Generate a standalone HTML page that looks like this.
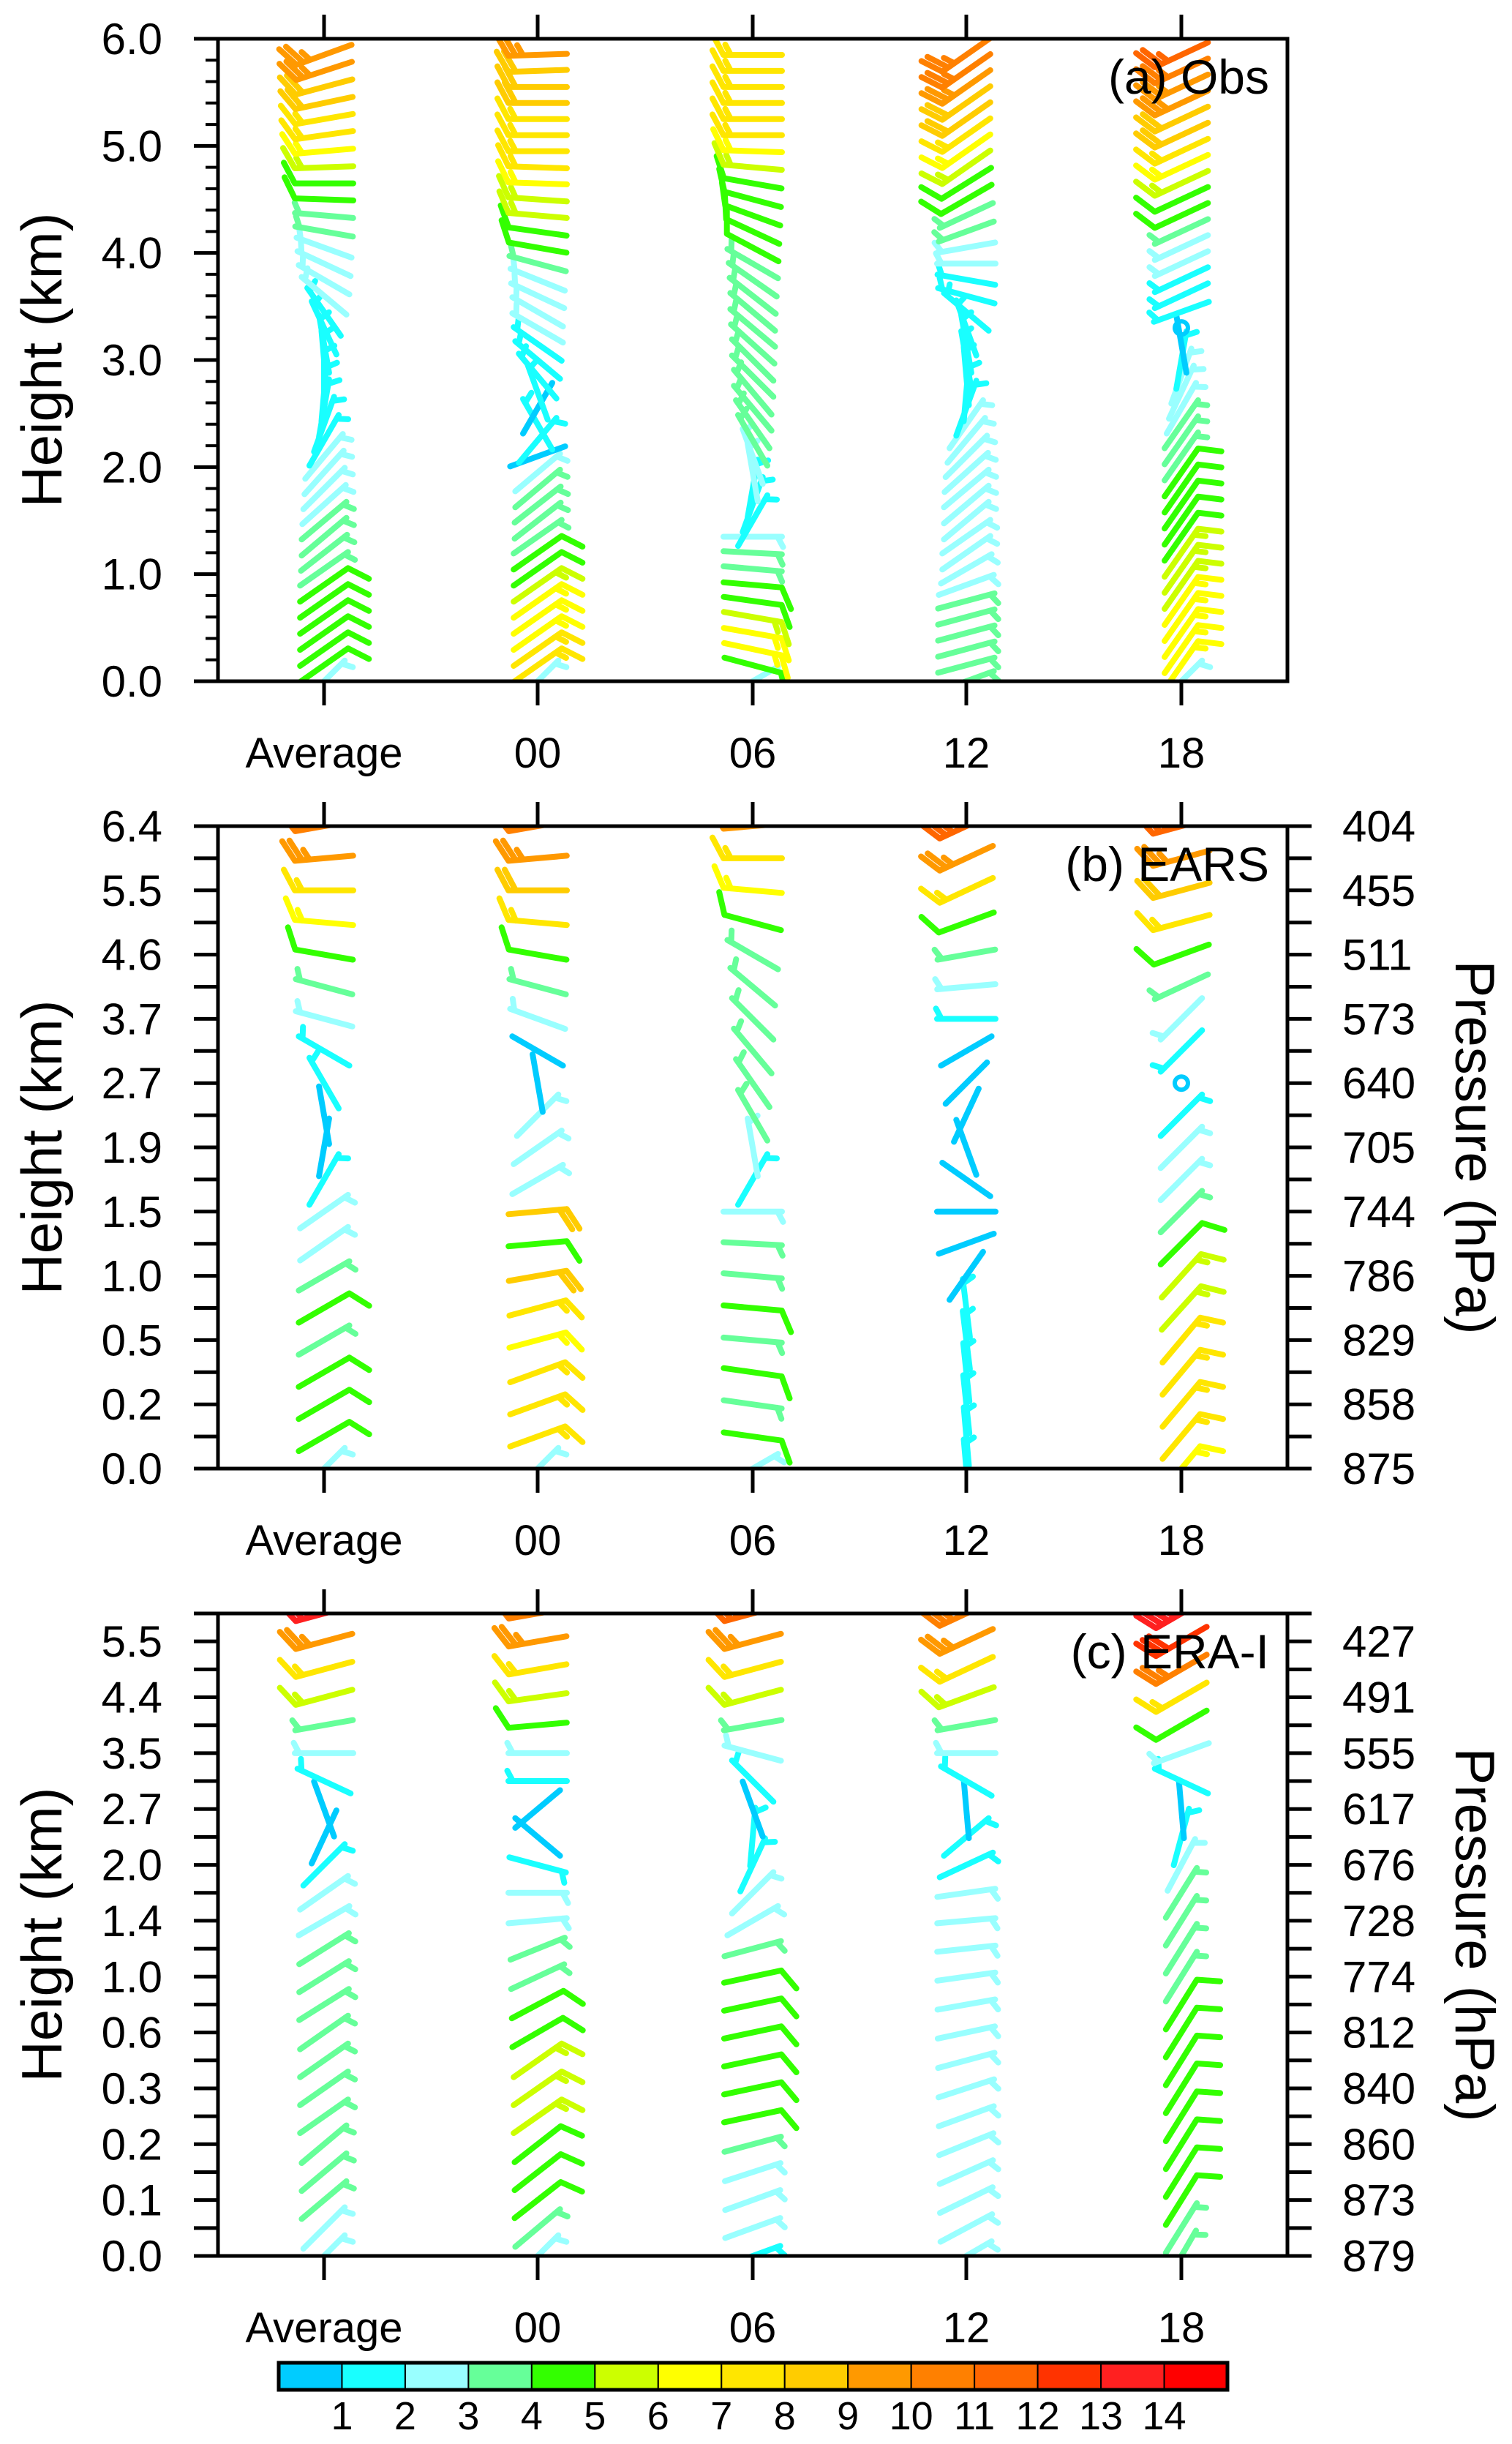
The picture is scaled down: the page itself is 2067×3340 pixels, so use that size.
<!DOCTYPE html>
<html><head><meta charset="utf-8"><style>
html,body{margin:0;padding:0;background:#fff;}
svg{display:block;font-family:"Liberation Sans",sans-serif;}
</style></head><body>
<svg id="fig" width="2067" height="3340" viewBox="0 0 2067 3340" xmlns="http://www.w3.org/2000/svg"></svg>
<script>
// ---------- data: categories ----------
const columns = ["Average","00","06","12","18"];
const colorLabels = ["1","2","3","4","5","6","7","8","9","10","11","12","13","14"];
const palette = ["#00CCFF","#19FFFF","#99FFFF","#66FF99","#33FF00","#CCFF00","#FFFF00","#FFE600","#FFCC00","#FF9900","#FF8000","#FF6600","#FF3300","#FF2020","#FF0000"];
const aTicks = ["0.0","1.0","2.0","3.0","4.0","5.0","6.0"];
const bLeftTicks = ["0.0","0.2","0.5","1.0","1.5","1.9","2.7","3.7","4.6","5.5","6.4"];
const bRightTicks = ["875","858","829","786","744","705","640","573","511","455","404"];
const cLeftTicks = ["0.0","0.1","0.2","0.3","0.6","1.0","1.4","2.0","2.7","3.5","4.4","5.5"];
const cRightTicks = ["879","873","860","840","812","774","728","676","617","555","491","427"];

// ---------- panel (a) Obs: speed (m/s) and barb direction (deg), bottom->top ----------
const aAvgSpd=[2.5,4.5,4.6,4.5,4.4,4.6,4.3,3.8,3.7,3.6,3.5,2.8,2.8,2.7,2.5,1.8,1.5,1.4,1.3,1.2,1.3,1.4,1.5,1.7,2.4,2.6,2.8,2.9,3.5,3.8,4.5,4.7,5.5,6.5,7.2,7.6,8.2,8.6,9.2,9.8];
const aAvgDir=[45,35,35,35,35,35,35,35,38,40,40,42,45,48,50,60,70,80,85,90,95,100,115,125,140,150,155,160,170,175,178,180,182,185,188,190,192,195,198,200];
const a00Spd=[2.5,7.5,7.2,6.8,6.5,6,5.5,4.5,4.2,3.8,3.5,3.2,3,2.8,0.8,1.2,1,0.8,1.2,1.5,1.8,1.8,2.2,2.5,2.6,2.8,3.5,4.3,4.5,5.5,5.8,6.5,7,7.3,7.5,7.8,8,8.2,8.5,9];
const a00Dir=[45,35,35,35,35,35,35,35,35,35,38,38,40,40,20,50,120,60,110,130,140,145,150,150,155,158,165,170,172,175,176,178,178,180,180,180,180,180,182,182];
const a06Spd=[2.5,4.5,6.5,6.8,5.5,4.5,4.5,3.6,3,2.8,1.5,1.5,1.6,2,2.6,3.2,3.4,3.5,3.5,3.6,3.6,3.5,3.5,3.4,3.6,3.7,3.8,4.2,4.5,4.6,4.8,4.8,5.2,6.5,7,7,7.2,7.5,7.5,7.8];
const a06Dir=[30,-15,-12,-10,-10,-8,-5,-5,-3,0,60,70,80,100,110,120,125,130,130,135,135,138,140,140,142,145,150,152,155,160,165,170,175,178,180,180,180,180,180,180];
const a12Spd=[3.5,3.6,3.8,3.7,3.6,3.5,2.8,2.7,2.6,2.6,2.6,2.5,2.5,2.5,2.5,2.4,2.5,1.8,1.7,1.6,1.5,1.5,1.6,1.8,1.8,1.9,2.5,2.8,3.5,3.8,4.6,4.8,5.5,6.8,7.5,8.2,8.8,9.5,10,10.5];
const a12Dir=[20,15,15,15,15,15,20,30,35,35,40,40,40,42,45,50,55,70,85,95,100,100,110,140,165,170,180,190,200,205,210,212,215,215,215,215,215,215,215,215];
const a18Spd=[2.5,6.5,6.2,6,6,6,5.8,5.5,5,4.8,4.5,4.5,4.5,4.2,3.6,3.6,3.8,2.8,2.5,2.2,1.5,0.6,0.3,1.0,1.2,1.5,2.2,2.8,3.6,4.2,4.6,5.5,6.2,7.5,8.3,8.6,9.2,9.8,10.2,11];
const a18Dir=[45,55,55,55,55,55,55,55,55,55,55,55,55,55,55,55,55,60,65,70,80,100,0,200,205,205,205,205,205,205,205,205,205,205,205,205,205,205,205,205];

// ---------- panel (b) EARS ----------
const bAvgSpd=[2.5,4.5,4.5,4.5,3.5,4.5,3.5,2.5,2.5,1.5,0.8,0.8,1.0,1.5,2.5,3.5,4.5,6.5,7,9.5,10];
const bAvgDir=[45,30,30,30,30,30,30,35,35,60,80,100,120,150,165,165,170,175,180,185,190];
const b00Spd=[2.5,7,7.5,7,6.8,7,8,4.5,8.2,2.8,2.6,2.5,0.8,0.9,2.5,3.5,4.5,7,8.5,9.5,10];
const b00Dir=[45,20,20,20,15,15,10,5,5,30,35,45,100,150,160,165,170,175,180,185,190];
const b06Spd=[2.5,4.5,3.8,4.5,3.8,4.5,3.6,3.2,2.6,1.5,2.5,3.5,3.5,3.5,3.5,3.6,3.8,4.5,6,7,9.5];
const b06Dir=[30,-8,-8,-8,-5,-5,-5,-3,0,60,100,120,125,130,135,140,150,165,175,180,185];
const b12Spd=[1.5,1.5,1.5,1.5,1.5,1.5,0.8,0.8,0.8,0.8,0.8,0.8,0.8,0.8,1.5,2.5,3.5,4.5,7,9.5,11];
const b12Dir=[95,95,96,96,97,97,55,20,0,145,110,65,45,30,180,185,190,200,205,205,205];
const b18Spd=[6.5,7,7,7,7,5.5,5.5,4.5,3.5,2.5,2.5,1.5,0.2,1.5,2.5,3.5,4.5,7,8.5,9.5,11];
const b18Dir=[50,50,50,50,50,48,48,45,45,45,45,45,0,225,225,205,200,195,195,195,195];

// ---------- panel (c) ERA-I ----------
const cAvgSpd=[2.5,2.5,3.5,3.5,3.5,3.5,3.5,3.5,3.5,3.5,3.5,3.5,2.5,2.5,1.5,0.8,0.8,1.5,2.5,3.5,5.5,7,9.5,13];
const cAvgDir=[45,45,40,40,40,35,35,35,35,32,32,32,30,35,45,65,110,155,180,190,195,195,195,195];
const c00Spd=[2.5,3.5,4.5,4.5,4.5,5.5,5.5,5.5,4.5,4.5,3.5,3.5,2.5,2.5,1.5,0.9,0.9,1.5,2.5,4.5,5.5,7.5,9.5,10];
const c00Dir=[45,40,38,38,38,35,35,35,30,28,25,22,5,0,-15,-40,40,180,180,185,188,190,190,190];
const c06Spd=[1.5,2.5,2.5,2.5,3.5,4.5,4.5,4.5,4.5,4.5,4.5,3.5,2.5,2.5,1.5,1.5,0.9,1.5,2.5,3.5,5.5,7,9.5,11];
const c06Dir=[20,20,20,18,15,12,12,12,12,12,12,15,30,45,65,85,110,135,165,190,195,195,195,195];
const c12Spd=[2.5,2.5,2.5,2.5,2.5,2.5,2.5,2.5,2.5,2.5,2.5,2.5,2.5,2.5,1.5,1.5,0.9,1.5,2.5,3.5,5.5,7.5,9.5,10.5];
const c12Dir=[30,28,26,24,22,20,18,15,12,10,8,6,5,8,25,40,95,150,180,190,200,205,205,205];
const c18Spd=[3.5,3.5,4.5,4.5,4.5,4.5,4.5,4.5,4.5,4.5,3.5,3.5,3.5,3.5,2.5,1.5,0.9,1.5,2.5,4.5,7,10,12,13.5];
const c18Dir=[60,58,58,58,58,58,58,58,58,58,58,58,58,58,62,75,95,155,200,210,210,210,210,210];

// ---------- layout ----------
const NS="http://www.w3.org/2000/svg";
const svg=document.getElementById('fig');
const PL=298, PR=1760, PH=878;
const colX=[443,735,1029,1321,1615];
function mk(tag,attrs,parent){const e=document.createElementNS(NS,tag);for(const k in attrs)e.setAttribute(k,attrs[k]);(parent||svg).appendChild(e);return e;}
function colorFor(s){let i=Math.floor(s);if(i<0)i=0;if(i>14)i=14;return palette[i];}

function drawBarb(g,cx,cy,spd,dir){
  const col=colorFor(spd);
  if(spd<0.5){
    const c=mk('circle',{cx:cx,cy:cy,r:9,fill:'none',stroke:col,'stroke-width':6},g);
    
    
    return;
  }
  const L=80,a=dir*Math.PI/180,ux=Math.cos(a),uy=-Math.sin(a);
  const tx=cx+ux*L/2,ty=cy+uy*L/2,hx=cx-ux*L/2,hy=cy-uy*L/2;
  const b=(dir-62)*Math.PI/180,fx=Math.cos(b),fy=-Math.sin(b);
  let d=`M${hx.toFixed(1)},${hy.toFixed(1)}L${tx.toFixed(1)},${ty.toFixed(1)}`;
  const full=Math.floor(spd/4), half=(spd-4*full)>=1?1:0;
  let k=0;
  for(let i=0;i<full;i++,k++){const px=tx-ux*10*k,py=ty-uy*10*k;d+=`M${px.toFixed(1)},${py.toFixed(1)}l${(fx*32).toFixed(1)},${(fy*32).toFixed(1)}`;}
  if(half){const px=tx-ux*10*(k+(full?0:0.6)),py=ty-uy*10*(k+(full?0:0.6));d+=`M${px.toFixed(1)},${py.toFixed(1)}l${(fx*16).toFixed(1)},${(fy*16).toFixed(1)}`;}
  const p=mk('path',{d:d,fill:'none',stroke:col,'stroke-width':8,'stroke-linecap':'round','stroke-linejoin':'round'},g);
  
  
}

function text(str,x,y,size,anchor,name,parent,extra){
  const t=mk('text',Object.assign({x:x,y:y,'font-size':size,'text-anchor':anchor||'middle',fill:'#000'},extra||{}),parent);
  t.textContent=str;
  
  
  return t;
}

const panels=[
 {id:'a',title:'(a) Obs',top:53,n:40,yOf:(i,top)=>top+PH-i*0.15*PH/6,
  series:[[aAvgSpd,aAvgDir],[a00Spd,a00Dir],[a06Spd,a06Dir],[a12Spd,a12Dir],[a18Spd,a18Dir]]},
 {id:'b',title:'(b) EARS',top:1129,n:21,yOf:(i,top)=>top+PH-i*PH/20,
  series:[[bAvgSpd,bAvgDir],[b00Spd,b00Dir],[b06Spd,b06Dir],[b12Spd,b12Dir],[b18Spd,b18Dir]],
  left:bLeftTicks,right:bRightTicks},
 {id:'c',title:'(c) ERA-I',top:2205,n:24,yOf:(i,top)=>top+PH-i*PH/23,
  series:[[cAvgSpd,cAvgDir],[c00Spd,c00Dir],[c06Spd,c06Dir],[c12Spd,c12Dir],[c18Spd,c18Dir]],
  left:cLeftTicks,right:cRightTicks}
];

const defs=mk('defs',{});
panels.forEach(P=>{
  const top=P.top,bot=top+PH;
  const g=mk('g',{});
  
  
  const cp=mk('clipPath',{id:'clip'+P.id},defs);
  mk('rect',{x:PL,y:top,width:PR-PL,height:PH},cp);
  const bg=mk('g',{'clip-path':'url(#clip'+P.id+')'},g);
  
  
  P.series.forEach((s,ci)=>{
    const [spd,dir]=s;
    for(let i=0;i<spd.length;i++) drawBarb(bg,colX[ci],P.yOf(i,top),spd[i],dir[i]);
  });
  const fr=mk('rect',{x:PL,y:top,width:PR-PL,height:PH,fill:'none',stroke:'#000','stroke-width':5},g);
  
  
  columns.forEach((c,ci)=>{
    const x=colX[ci];
    mk('line',{x1:x,y1:top-33,x2:x,y2:top,stroke:'#000','stroke-width':5},g);
    mk('line',{x1:x,y1:bot,x2:x,y2:bot+33,stroke:'#000','stroke-width':5},g);
    text(c,x,bot+118,58,'middle','x-tick-label',g);
  });
  if(P.id==='a'){
    for(let k=0;k<=30;k++){
      const y=bot-k*0.2*PH/6, major=(k%5===0);
      mk('line',{x1:PL-(major?33:17),y1:y,x2:PL,y2:y,stroke:'#000','stroke-width':major?5:4},g);
    }
    aTicks.forEach((t,k)=>text(t,222,bot-k*PH/6+21,60,'end','y-tick-label',g));
  } else {
    for(let i=0;i<P.n;i++){
      const y=P.yOf(i,top);
      mk('line',{x1:PL-33,y1:y,x2:PL,y2:y,stroke:'#000','stroke-width':5},g);
      mk('line',{x1:PR,y1:y,x2:PR+33,y2:y,stroke:'#000','stroke-width':5},g);
    }
    P.left.forEach((t,k)=>text(t,222,P.yOf(2*k,top)+21,60,'end','y-tick-label',g));
    P.right.forEach((t,k)=>text(t,1835,P.yOf(2*k,top)+21,60,'start','pressure-tick-label',g));
    text('Pressure (hPa)',0,0,76,'middle','pressure-axis-title',g,{transform:`translate(1990,${top+PH/2}) rotate(90)`});
  }
  text('Height (km)',0,0,78,'middle','y-axis-title',g,{transform:`translate(84,${top+PH/2}) rotate(-90)`});
  text(P.title,1735,top+75,66,'end','panel-title',g);
});

// colorbar
const cb=mk('g',{});


const cbL=381,cbR=1678,cbT=3229,cbH=37,bw=(cbR-cbL)/palette.length;
palette.forEach((c,i)=>{
  const r=mk('rect',{x:cbL+i*bw,y:cbT,width:bw,height:cbH,fill:c,stroke:'#000','stroke-width':2},cb);
  
  
});
mk('rect',{x:cbL,y:cbT,width:cbR-cbL,height:cbH,fill:'none',stroke:'#000','stroke-width':5},cb);
colorLabels.forEach((t,i)=>text(t,cbL+(i+1)*bw,3320,54,'middle','colorbar-label',cb));
</script>
</body></html>
